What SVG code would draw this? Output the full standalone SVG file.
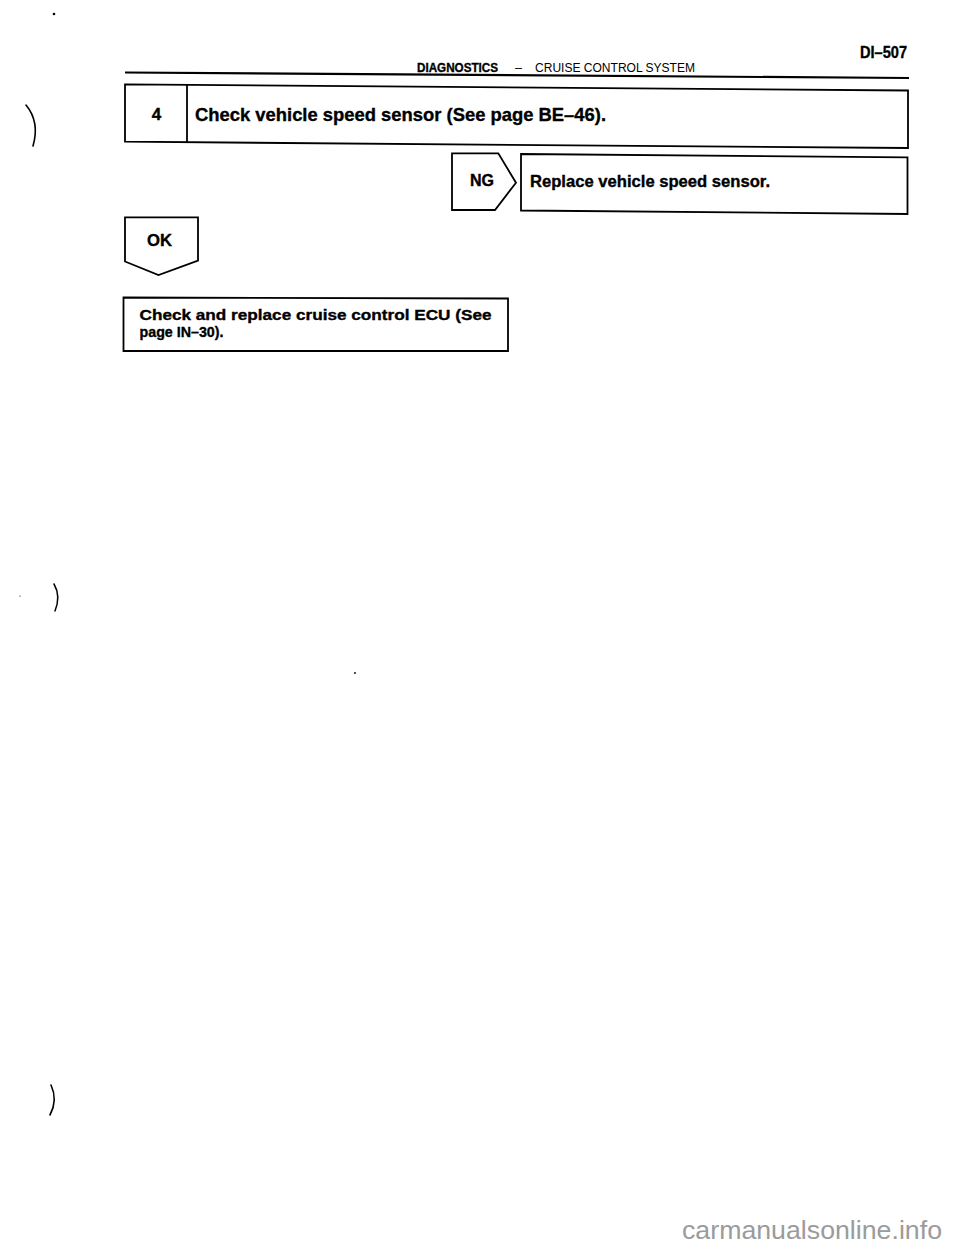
<svg xmlns="http://www.w3.org/2000/svg" width="960" height="1250" viewBox="0 0 960 1250">
<style>
.box{fill:none;stroke:#000;stroke-width:1.8;stroke-linejoin:miter}
.b{font-family:"Liberation Sans",Arial,sans-serif;font-weight:bold;fill:#000;stroke:#000;stroke-width:0.35}
.r{font-family:"Liberation Sans",Arial,sans-serif;fill:#000}
.art{fill:none;stroke:#000;stroke-linecap:round}
</style>
<rect width="960" height="1250" fill="#fff"/>
<g id="scan-marks">
<circle cx="54" cy="14" r="1.3" fill="#000"/>
<path class="art" d="M26,105 Q40,122 33,146" stroke-width="1.6"/>
<path class="art" d="M54,584 Q61,596 55,611" stroke-width="1.5"/>
<circle cx="20" cy="596" r="0.6" fill="#000"/>
<circle cx="355" cy="673" r="0.9" fill="#000"/>
<path class="art" d="M51,1085 Q58,1100 50,1115" stroke-width="1.6"/>
</g>
<g id="header">
<text class="b" x="907" y="58" text-anchor="end" font-size="16" textLength="47" lengthAdjust="spacingAndGlyphs">DI–507</text>
<text class="b" x="417" y="71.5" font-size="12.5" textLength="81" lengthAdjust="spacingAndGlyphs" stroke-width="0.2">DIAGNOSTICS</text>
<text class="r" x="515" y="71.5" font-size="12.5">–</text>
<text class="r" x="535" y="71.5" font-size="12.5" textLength="160" lengthAdjust="spacingAndGlyphs">CRUISE CONTROL SYSTEM</text>
<path d="M125,72.5 L909,78" stroke="#000" stroke-width="2.2" fill="none"/>
</g>
<g id="step4">
<path class="box" d="M125,84.3 L908,90.5 L908,148 L125,141.7 Z"/>
<path class="box" d="M187,84.8 L187,142.2"/>
<text class="b" x="156.5" y="119.5" font-size="17" text-anchor="middle">4</text>
<text class="b" x="195" y="120.5" font-size="18.5" textLength="411" lengthAdjust="spacingAndGlyphs">Check vehicle speed sensor (See page BE–46).</text>
</g>
<g id="replace-sensor">
<path class="box" d="M521,154 L907.5,157.3 L907.5,214 L521,210.5 Z"/>
<text class="b" x="530" y="187" font-size="16.5" textLength="240" lengthAdjust="spacingAndGlyphs">Replace vehicle speed sensor.</text>
</g>
<g id="check-ecu">
<path class="box" d="M123.5,297.5 L508,298.5 L508,351 L123.5,351 Z"/>
<text class="b" x="139.5" y="320" font-size="15" textLength="352" lengthAdjust="spacingAndGlyphs">Check and replace cruise control ECU (See</text>
<text class="b" x="139.5" y="336.5" font-size="15" textLength="84" lengthAdjust="spacingAndGlyphs">page IN–30).</text>
</g>
<g id="connectors">
<g id="ng">
<path class="box" d="M452,153.3 L498.3,153.3 L516,182.7 L495,210 L452,210 Z"/>
<text class="b" x="470" y="186" font-size="16" textLength="24" lengthAdjust="spacingAndGlyphs">NG</text>
</g>
<g id="ok">
<path class="box" d="M125,217.3 L198,217.3 L198,260.5 L158.5,275 L125,261.5 Z"/>
<text class="b" x="147" y="245.5" font-size="16" textLength="25" lengthAdjust="spacingAndGlyphs">OK</text>
</g>
</g>
<text x="682" y="1239" font-family="Liberation Sans,Arial,sans-serif" font-size="26" fill="#9b9b9b" textLength="260" lengthAdjust="spacingAndGlyphs">carmanualsonline.info</text>
</svg>
